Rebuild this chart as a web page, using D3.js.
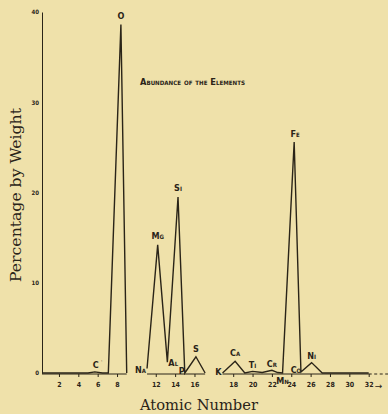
<!DOCTYPE html>
<html>
<head>
<meta charset="utf-8">
<script src="https://cdn.jsdelivr.net/npm/d3@7"></script>
<style>
  html, body { margin: 0; padding: 0; background: #efe1aa; }
  svg { display: block; }
</style>
</head>
<body>
<script>
// ---- data ----
// line series (x = position along the atomic-number axis, y = percentage by weight); null = gap
const lineZ   = [0.25, 1, 2, 3, 4, 5, 5.7, 6.5, 7.1, 8.4, 9.0, null,
                 11.1, 12.2, 13.2, 14.3, 15.0, 16.15, 17.1, null,
                 18.9, 20.2, 21.2, 22, 23, 24, 24.6, 25.1, 26.3, 27.0, 28.1, 29.2, 30, 34];
const linePct = [0, 0, 0, 0, 0, 0, 0.12, 0, 0, 38.6, 0, null,
                 0.5, 14.2, 1.2, 19.5, 0, 1.8, 0, null,
                 0, 1.3, 0, 0.18, 0.05, 0.3, 0.05, 0, 25.6, 0.1, 1.15, 0, 0, 0];

// element labels
const elements   = ["C", "O", "Na", "Mg", "Al", "Si", "P", "S", "K", "Ca", "Ti", "Cr", "Mn", "Fe", "Co", "Ni"];
const elementZ   = [5.7, 8.4, 11.1, 12.2, 13.2, 14.3, 15.0, 16.15, 18.9, 20.2, 22, 24, 25.1, 26.3, 27.0, 28.1];
const elementPct = [0.12, 38.6, 0.5, 14.2, 1.2, 19.5, 0, 1.8, 0, 1.3, 0.18, 0.3, 0, 25.6, 0.1, 1.15];

// axes
const xTickPos    = [2, 4, 6, 8, 12, 14, 16, 20, 22, 24, 26, 28, 30, 32, 34];
const xTickLabels = ["2", "4", "6", "8", "12", "14", "16", "18", "20", "22", "24", "26", "28", "30", "32"];
const yTicks      = [0, 10, 20, 30, 40];
const axisSegments = [[0.25, 9.0], [11.1, 17.1], [18.9, 34]];

const title  = "Abundance of the Elements";
const xTitle = "Atomic Number";
const yTitle = "Percentage by Weight";

// ---- chart ----
const W = 388, H = 414;
const ink = "#2a2418";
const svg = d3.select("body").append("svg").attr("width", W).attr("height", H);
svg.append("rect").attr("width", W).attr("height", H).attr("fill", "#efe1aa");

const x = d3.scaleLinear().domain([0, 34]).range([39.6, 368.7]);
const y = d3.scaleLinear().domain([0, 40]).range([373, 12]);
const axisY = 374;

// y axis
const gy = svg.append("g").attr("transform", "translate(42,0)")
  .call(d3.axisLeft(y).tickValues(yTicks).tickSize(0).tickSizeOuter(0).tickPadding(3));
gy.select(".domain").attr("stroke", ink).attr("stroke-width", 1);
gy.selectAll("text").attr("font-family", "DejaVu Sans Condensed").attr("font-weight", "bold")
  .attr("font-size", 6).attr("fill", ink);

// x axis (ticks & labels), domain replaced by segments
const gx = svg.append("g").attr("transform", `translate(0,${axisY})`)
  .call(d3.axisBottom(x).tickValues(xTickPos).tickFormat((d, i) => xTickLabels[i])
        .tickSize(3).tickSizeOuter(0).tickPadding(5));
gx.select(".domain").remove();
gx.selectAll(".tick line").attr("stroke", ink).attr("stroke-width", 1);
gx.selectAll("text").attr("font-family", "DejaVu Sans Condensed").attr("font-weight", "bold")
  .attr("font-size", 7).attr("fill", ink);

svg.append("g").selectAll("line").data(axisSegments).join("line")
  .attr("x1", d => x(d[0])).attr("x2", d => x(d[1]))
  .attr("y1", axisY).attr("y2", axisY)
  .attr("stroke", ink).attr("stroke-width", 1.2);
// dashed continuation + arrow
svg.append("line").attr("x1", x(34)).attr("x2", W).attr("y1", axisY).attr("y2", axisY)
  .attr("stroke", ink).attr("stroke-width", 1.2).attr("stroke-dasharray", "3,2.5");
svg.append("text").attr("x", x(34) + 6).attr("y", axisY + 15)
  .attr("font-family", "DejaVu Sans").attr("font-size", 9).attr("fill", ink).text("→");

// data line
const pts = lineZ.map((z, i) => ({ z, v: linePct[i] }));
svg.append("path").datum(pts)
  .attr("d", d3.line().defined(d => d.z !== null && d.v !== null).x(d => x(d.z)).y(d => y(d.v)))
  .attr("fill", "none").attr("stroke", ink).attr("stroke-width", 1.4).attr("stroke-linejoin", "miter");

// element labels (offsets are layout only)
const labelLayout = {
  C:  { dx: 1,   dy: -4,  a: "middle" },
  O:  { dx: 0,   dy: -6,  a: "middle" },
  Na: { dx: -1,  dy: 5,   a: "end" },
  Mg: { dx: 0,   dy: -6,  a: "middle" },
  Al: { dx: 1,   dy: 4,   a: "start" },
  Si: { dx: 0,   dy: -6,  a: "middle" },
  P:  { dx: 0,   dy: 1,   a: "end" },
  S:  { dx: 0,   dy: -5,  a: "middle" },
  K:  { dx: -1,  dy: 2,   a: "end" },
  Ca: { dx: 0,   dy: -5,  a: "middle" },
  Ti: { dx: 0,   dy: -3,  a: "middle" },
  Cr: { dx: 0,   dy: -3,  a: "middle" },
  Mn: { dx: 0,   dy: 11,  a: "middle" },
  Fe: { dx: 1,   dy: -5,  a: "middle" },
  Co: { dx: -5,  dy: 1,   a: "middle" },
  Ni: { dx: 0,   dy: -4,  a: "middle" }
};
svg.append("g").selectAll("text").data(elements).join("text")
  .attr("x", (d, i) => x(elementZ[i]) + labelLayout[d].dx)
  .attr("y", (d, i) => y(elementPct[i]) + labelLayout[d].dy)
  .attr("text-anchor", d => labelLayout[d].a)
  .attr("font-family", "DejaVu Sans Condensed").attr("font-weight", "bold")
  .attr("font-size", 9).attr("font-variant", "small-caps").attr("fill", ink)
  .text(d => d);
// small dot after C
svg.append("text").attr("x", x(elementZ[0]) + 6).attr("y", y(elementPct[0]) - 9)
  .attr("font-family", "DejaVu Sans").attr("font-size", 6).attr("fill", ink).text("·");

// chart title
svg.append("text").attr("x", 140).attr("y", 85)
  .attr("font-family", "DejaVu Sans Condensed").attr("font-weight", "bold")
  .attr("font-size", 9).attr("font-variant", "small-caps").attr("fill", ink)
  .attr("textLength", 105).attr("lengthAdjust", "spacingAndGlyphs").text(title);

// axis titles
svg.append("text").attr("x", 199).attr("y", 410).attr("text-anchor", "middle")
  .attr("font-family", "DejaVu Serif").attr("font-size", 15).attr("fill", ink)
  .attr("textLength", 118).attr("lengthAdjust", "spacingAndGlyphs").text(xTitle);
svg.append("text").attr("transform", "translate(21,195) rotate(-90)").attr("text-anchor", "middle")
  .attr("font-family", "DejaVu Serif").attr("font-size", 14).attr("fill", ink)
  .attr("textLength", 174).attr("lengthAdjust", "spacingAndGlyphs").text(yTitle);
</script>
</body>
</html>
